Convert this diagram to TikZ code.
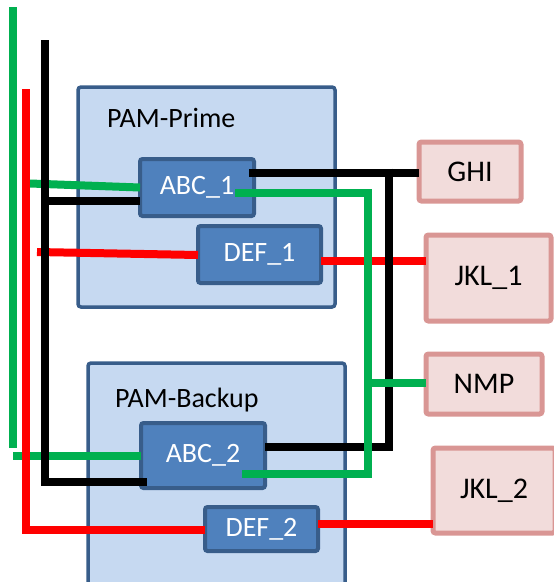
\documentclass[tikz,border=0pt]{standalone}
\usepackage{fontspec}
\setmainfont{Carlito}
\usetikzlibrary{calc}
\definecolor{pamfill}{HTML}{C6D9F1}
\definecolor{pamborder}{HTML}{385D8A}
\definecolor{modfill}{HTML}{4F81BD}
\definecolor{modborder}{HTML}{385D8A}
\definecolor{extfill}{HTML}{F2DCDB}
\definecolor{extborder}{HTML}{D99694}
\definecolor{lgreen}{HTML}{00B050}
\definecolor{lred}{HTML}{FF0000}
\begin{document}
\begin{tikzpicture}[x=1pt,y=-1pt,
  pambox/.style={draw=pamborder,fill=pamfill,line width=3.5pt,rounded corners=3pt,inner sep=0pt,outer sep=0pt},
  modbox/.style={draw=modborder,fill=modfill,line width=4pt,rounded corners=2.5pt,inner sep=0pt,outer sep=0pt,text=white,font=\fontsize{28}{32}\selectfont},
  extbox/.style={draw=extborder,fill=extfill,line width=5pt,rounded corners=2.5pt,inner sep=0pt,outer sep=0pt,text=black,font=\fontsize{30}{34}\selectfont},
  pamlabel/.style={anchor=base west,inner sep=0pt,font=\fontsize{28}{32}\selectfont},
  gwire/.style={draw=lgreen,line width=8pt},
  rwire/.style={draw=lred,line width=8pt},
  kwire/.style={draw=black,line width=8pt}]
\useasboundingbox (0,0) rectangle (554,582);
% outer boxes
\node[pambox,minimum width=257pt,minimum height=220pt] (prime) at (206.5,197) {};
\node[pambox,minimum width=257pt,minimum height=226pt] (backup) at (216.5,476) {};
\node[pamlabel] (primelbl) at (107,127) {PAM-Prime};
\node[pamlabel] (backuplbl) at (115,407) {PAM-Backup};
% modules
\node[modbox,minimum width=114pt,minimum height=57pt] (abc1) at (197,187.5) {ABC\_1};
\node[modbox,minimum width=123pt,minimum height=57pt] (def1) at (259.5,254.5) {DEF\_1};
\node[modbox,minimum width=124pt,minimum height=65pt] (abc2) at (203,455.5) {ABC\_2};
\node[modbox,minimum width=113pt,minimum height=44pt] (def2) at (261.5,529) {DEF\_2};
% external boxes
\node[extbox,minimum width=102pt,minimum height=59pt] (ghi) at (470,171.5) {GHI};
\node[extbox,minimum width=125pt,minimum height=86pt] (jkl1) at (488.5,278) {JKL\_1};
\node[extbox,minimum width=116pt,minimum height=60pt] (nmp) at (484,384) {NMP};
\node[extbox,minimum width=122pt,minimum height=85pt] (jkl2) at (494,490.5) {JKL\_2};
% free ends
\coordinate (gtop) at (13,7);
\coordinate (gbot) at (13,448);
\coordinate (g2s) at (30,183.5);
\coordinate (g5s) at (13,455.5);
\coordinate (rtop) at (25.5,89);
\coordinate (rbot) at (25.5,530);
\coordinate (r2s) at (37,252);
\coordinate (ktop) at (44.5,40);
\coordinate (kbot) at (44.5,481.5);
\coordinate (k2s) at (44.5,201);
\coordinate (kj) at (389,172.5);
\coordinate (kjb) at (389,447);
\coordinate (gjt) at (368,193);
\coordinate (gjb) at (368,473.5);
\coordinate (gjn) at (368,383);
% green (bottom layer)
\draw[gwire] (gtop) -- (gbot);
\draw[gwire] (g2s) -- (abc1.west |- 0,187.5);
\draw[gwire] (g5s) -- (abc2.west |- 0,455.5);
% red
\draw[rwire] (rtop) -- (rbot) -- (def2.west |- rbot);
\draw[rwire] (r2s) -- (def1.west |- 0,255);
\draw[rwire] (def1.east |- 0,261) -- (jkl1.west |- 0,261);
\draw[rwire] (def2.east |- 0,524) -- (jkl2.west |- 0,524);
% black
\draw[kwire] (ktop) -- (kbot) -- ($(abc2.west)+(6,26)$);
\draw[kwire] (k2s) -- (abc1.west |- k2s);
\draw[kwire] ($(abc1.east)+(-5,-15)$) -- (ghi.west |- kj);
\draw[kwire] ($(kj)+(0,-4)$) -- (kjb) -- (abc2.east |- kjb);
% green (top layer)
\draw[gwire] ($(abc1.east)+(-19,5.5)$) -- (gjt) -- (gjb) -- ($(abc2.east)+(-23,18)$);
\draw[gwire] (gjn) -- (nmp.west |- gjn);
\end{tikzpicture}
\end{document}
